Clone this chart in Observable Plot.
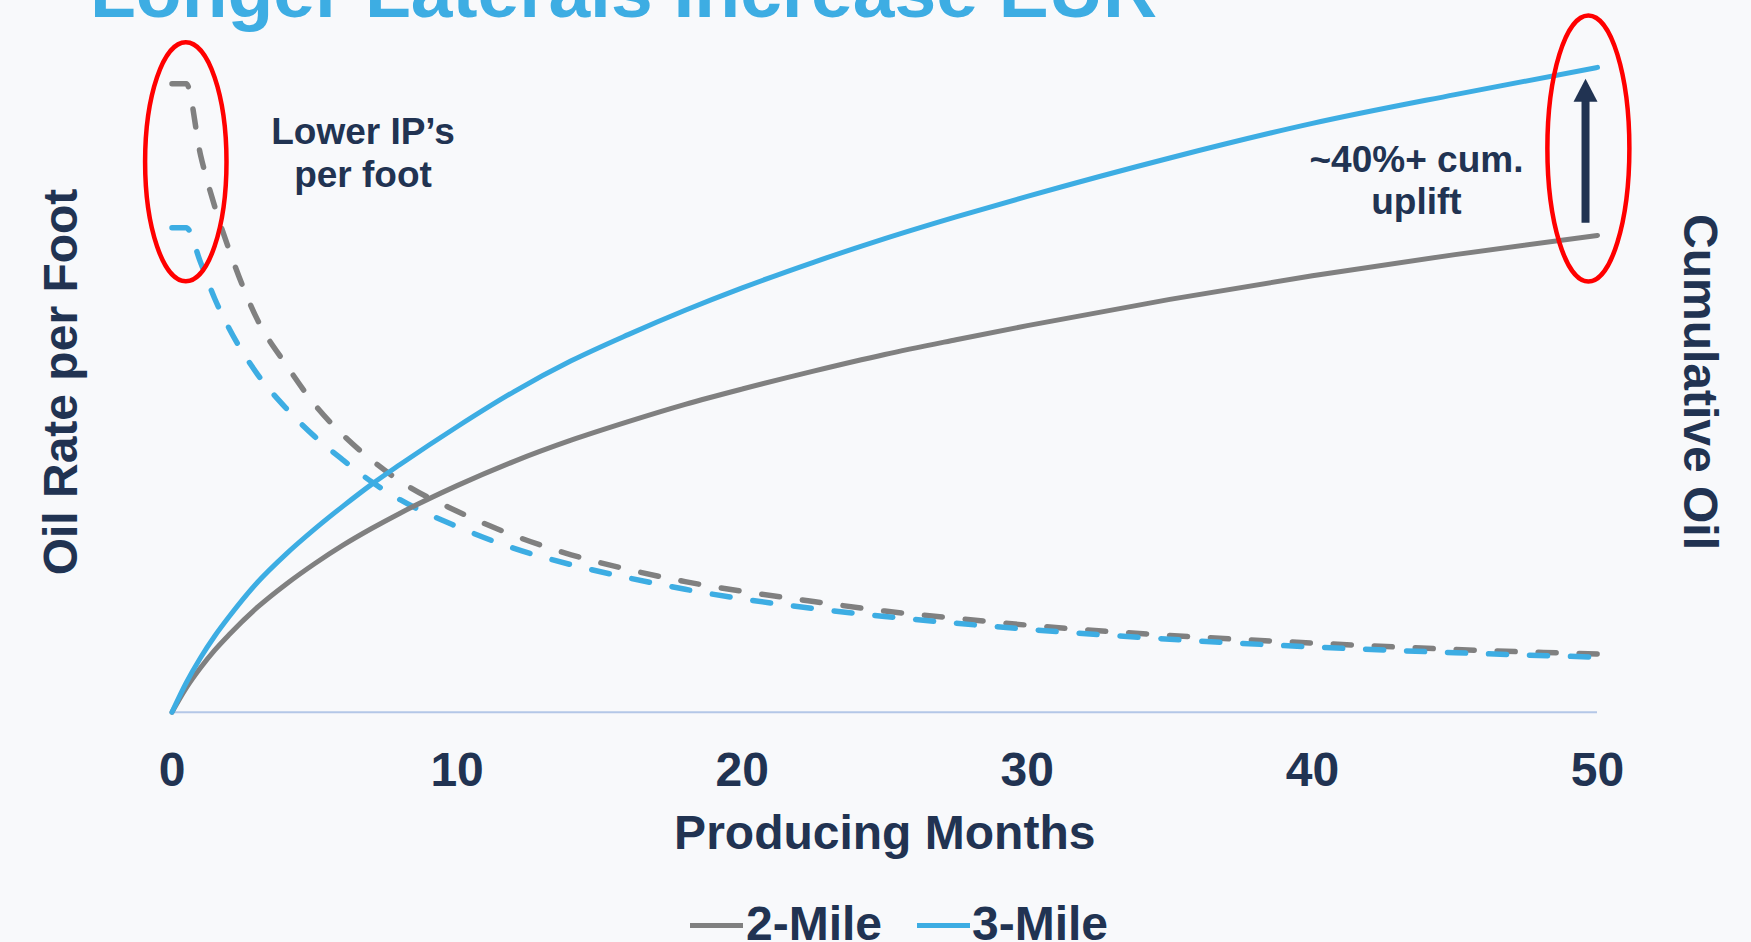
<!DOCTYPE html>
<html>
<head>
<meta charset="utf-8">
<script src="https://cdn.jsdelivr.net/npm/d3@7"></script>
<script src="https://cdn.jsdelivr.net/npm/@observablehq/plot@0.6"></script>
<style>
  html, body { margin: 0; padding: 0; background: #F8F9FB; overflow: hidden; }
  #wrap { position: relative; width: 1751px; height: 942px; overflow: hidden; font-family: "Liberation Sans", Arial, sans-serif; }
  #chart { position: absolute; left: 0; top: 0; }
  .lg-sw { position: absolute; height: 5px; width: 53px; }
  .lg-tx { position: absolute; font-size: 48px; line-height: 48px; font-weight: bold; color: #213352; white-space: nowrap; }
</style>
</head>
<body>
<div id="wrap">
  <div id="chart"></div>
  <div id="legend"></div>
</div>
<script>
// ---- data ----
const months = [0, 0.5, 1, 1.5, 2, 3, 4, 5, 6, 7, 8, 10, 12, 14, 16, 18, 20, 22.5, 25, 27.5, 30, 35, 40, 45, 50];
const cum2Mile  = [0, 3.8, 6.95, 9.7, 12.1, 16.4, 20.0, 23.2, 26.1, 28.7, 31.1, 35.4, 39.2, 42.5, 45.4, 48.1, 50.5, 53.3, 55.9, 58.2, 60.4, 64.5, 68.2, 71.5, 74.5];
const cum3Mile  = [0, 4.6, 8.5, 11.9, 14.9, 20.3, 24.7, 28.6, 32.2, 35.6, 38.7, 44.6, 50.1, 54.9, 59.0, 62.8, 66.3, 70.3, 74.0, 77.4, 80.6, 86.6, 92.0, 96.5, 100.75];
const rate2Mile = [98.2, 98.2, 87.1, 79.0, 72.3, 61.3, 54.3, 48.1, 43.3, 39.4, 36.1, 31.4, 27.6, 24.6, 22.3, 20.4, 18.9, 17.3, 15.8, 14.65, 13.6, 12.0, 10.8, 9.8, 9.1];
const rate3Mile = [75.7, 75.7, 70.3, 64.6, 60.0, 52.8, 47.5, 43.1, 39.4, 36.0, 33.2, 29.0, 25.6, 23.05, 21.0, 19.2, 17.7, 16.2, 14.95, 13.9, 12.95, 11.4, 10.2, 9.3, 8.6];
const xTicks = [0, 10, 20, 30, 40, 50];
const seriesNames = ["2-Mile", "3-Mile"];
const titleText = "Longer Laterals Increase EUR";
const xLabel = "Producing Months";
const yLeftLabel = "Oil Rate per Foot";
const yRightLabel = "Cumulative Oil";
const noteLeft = "Lower IP\u2019s\nper foot";
const noteRight = "~40%+ cum.\nuplift";

// ---- styling ----
const navy = "#213352";
const blue = "#3DADE3";
const gray = "#808080";
const red = "#FF0000";
const font = "Liberation Sans, Arial, sans-serif";

const rows = ys => months.map((m, i) => ({month: m, value: ys[i]}));

function ellipseSymbol(rx, ry) {
  const k = 0.5523, ox = rx * k, oy = ry * k;
  return {
    draw(ctx) {
      ctx.moveTo(-rx, 0);
      ctx.bezierCurveTo(-rx, -oy, -ox, -ry, 0, -ry);
      ctx.bezierCurveTo(ox, -ry, rx, -oy, rx, 0);
      ctx.bezierCurveTo(rx, oy, ox, ry, 0, ry);
      ctx.bezierCurveTo(-ox, ry, -rx, oy, -rx, 0);
      ctx.closePath();
    }
  };
}
const arrowHead = {
  draw(ctx) {
    ctx.moveTo(0, -23);
    ctx.lineTo(12, 0);
    ctx.lineTo(-12, 0);
    ctx.closePath();
  }
};

const dashOpts = {strokeWidth: 5.5, strokeDasharray: "18,23", strokeLinecap: "round", curve: "monotone-x"};
const solidOpts = {strokeWidth: 5, curve: "monotone-x"};

const chart = Plot.plot({
  width: 1751,
  height: 942,
  marginLeft: 171.5,
  marginRight: 154,
  marginTop: 71.7,
  marginBottom: 230.3,
  style: {background: "transparent", fontFamily: font, overflow: "visible"},
  x: {domain: [0, 50]},
  y: {domain: [0, 100], axis: null},
  marks: [
    Plot.ruleY([0], {stroke: "#B4C7E7", strokeWidth: 2}),
    Plot.axisX({ticks: xTicks, tickSize: 0, tickPadding: 39.7, fontSize: 48, fontWeight: "bold", fill: navy, label: null, tickFormat: d => String(d)}),
    Plot.line(rows(rate2Mile), {x: "month", y: "value", stroke: gray, ...dashOpts}),
    Plot.line(rows(rate3Mile), {x: "month", y: "value", stroke: blue, ...dashOpts}),
    Plot.line(rows(cum2Mile), {x: "month", y: "value", stroke: gray, ...solidOpts}),
    Plot.line(rows(cum3Mile), {x: "month", y: "value", stroke: blue, ...solidOpts}),
    // highlight ellipses
    Plot.dot([{x: 0.484, y: 86.0}], {x: "x", y: "y", symbol: ellipseSymbol(40.7, 119.5), fill: "none", stroke: red, strokeWidth: 4.5}),
    Plot.dot([{x: 49.68, y: 88.08}], {x: "x", y: "y", symbol: ellipseSymbol(41, 133), fill: "none", stroke: red, strokeWidth: 4.5}),
    // uplift arrow
    Plot.ruleX([{x: 49.58, y1: 76.4, y2: 95.6}], {x: "x", y1: "y1", y2: "y2", stroke: navy, strokeWidth: 8}),
    Plot.dot([{x: 49.58, y: 95.4}], {x: "x", y: "y", symbol: arrowHead, fill: navy, stroke: "none"}),
    // notes
    Plot.text([{x: 6.70, y: 82.03, t: noteLeft}], {x: "x", y: "y", text: "t", lineAnchor: "bottom", lineHeight: 1.18, fontSize: 37, fontWeight: "bold", fill: navy, textAnchor: "middle"}),
    Plot.text([{x: 43.65, y: 77.9, t: noteRight}], {x: "x", y: "y", text: "t", lineAnchor: "bottom", lineHeight: 1.12, fontSize: 37, fontWeight: "bold", fill: navy, textAnchor: "middle"}),
    // axis titles
    Plot.text([xLabel], {text: d => d, frameAnchor: "bottom", dy: 136.6, lineAnchor: "bottom", fontSize: 48, fontWeight: "bold", fill: navy}),
    Plot.text([yLeftLabel], {text: d => d, frameAnchor: "left", dx: -95, dy: -10.2, rotate: -90, lineAnchor: "bottom", textAnchor: "middle", fontSize: 48, fontWeight: "bold", fill: navy}),
    Plot.text([yRightLabel], {text: d => d, frameAnchor: "right", dx: 86.5, dy: -10.2, rotate: 90, lineAnchor: "bottom", textAnchor: "middle", fontSize: 48, fontWeight: "bold", fill: navy}),
    // title
    Plot.text([titleText], {text: d => d, frameAnchor: "top-left", dx: -82, dy: -55.2, textAnchor: "start", lineAnchor: "bottom", fontSize: 75, fontWeight: "bold", fill: blue})
  ]
});
document.getElementById("chart").appendChild(chart);

// ---- legend ----
const legend = document.getElementById("legend");
const legendItems = [
  {name: seriesNames[0], color: gray, swLeft: 690, txLeft: 746},
  {name: seriesNames[1], color: blue, swLeft: 917, txLeft: 972}
];
for (const it of legendItems) {
  const sw = document.createElement("div");
  sw.className = "lg-sw";
  sw.style.left = it.swLeft + "px";
  sw.style.top = "922.5px";
  sw.style.background = it.color;
  legend.appendChild(sw);
  const tx = document.createElement("div");
  tx.className = "lg-tx";
  tx.style.left = it.txLeft + "px";
  tx.style.top = "900.4px";
  tx.textContent = it.name;
  legend.appendChild(tx);
}
</script>
</body>
</html>
